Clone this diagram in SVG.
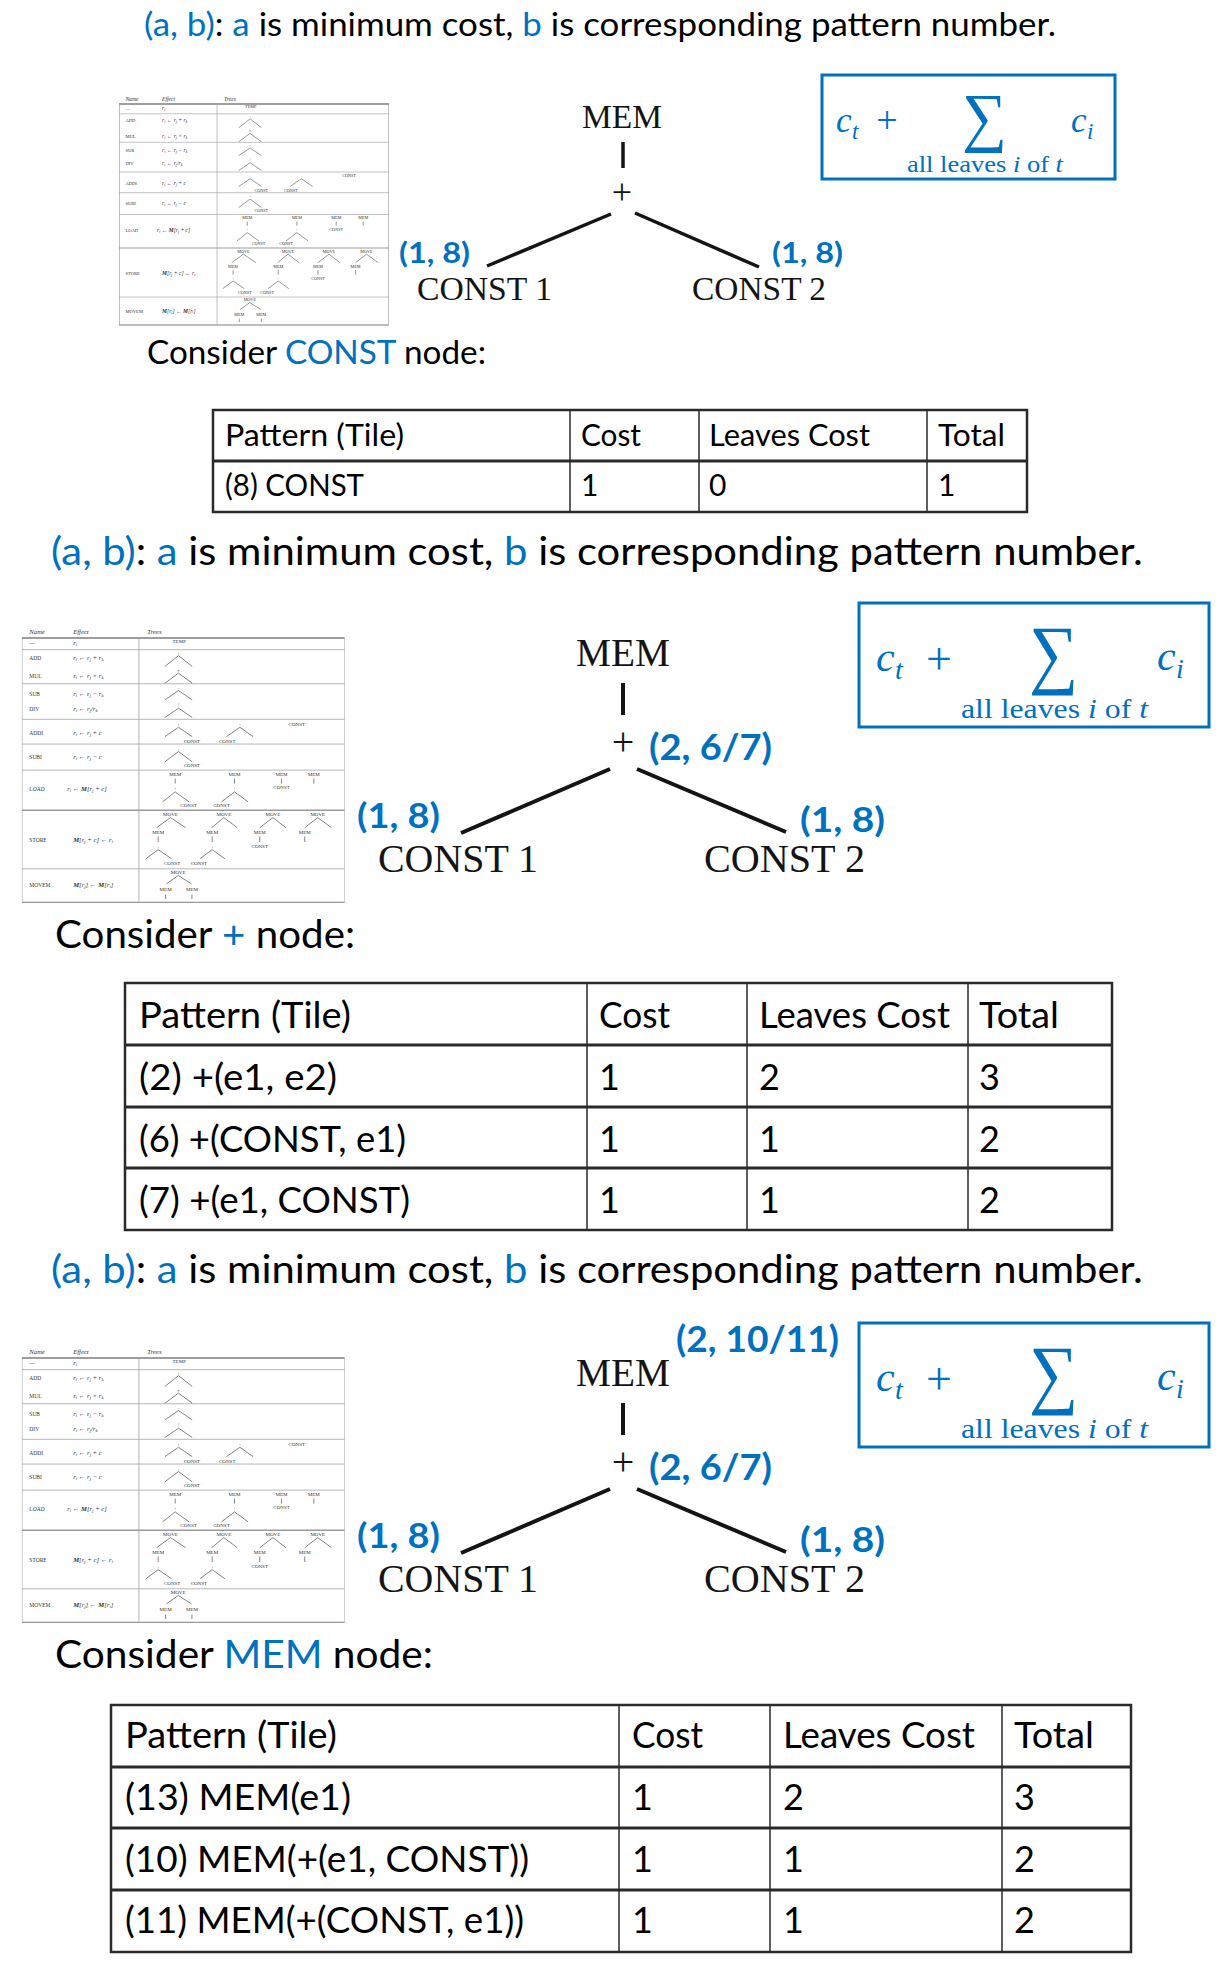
<svg xmlns="http://www.w3.org/2000/svg" width="1229" height="1974" viewBox="0 0 1229 1974">
<defs>
<style>
.t{font-family:Lato,'Liberation Sans',sans-serif;fill:#000}
.bl{fill:#0070C0}
.lab{font-family:Lato,'Liberation Sans',sans-serif;font-weight:700;fill:#0070C0}
.sf{font-family:'Liberation Serif','Times New Roman',serif;fill:#141414}
.mi{font-family:'Liberation Serif',serif;font-style:italic;fill:#0070C0}
.mr{font-family:'Liberation Serif',serif;fill:#0070C0}
.sig{font-family:'Liberation Serif','DejaVu Serif',serif;fill:#0070C0;text-anchor:middle}
.edge{stroke:#141414;stroke-width:3.5;fill:none}
.edge2{stroke:#141414;stroke-width:4;fill:none}
.box{fill:none;stroke:#0070C0;stroke-width:3}
.tbo{fill:none;stroke:#2a2a2a;stroke-width:2.5}
.tbh{stroke:#2a2a2a;stroke-width:3}
.tbv{stroke:#2a2a2a;stroke-width:1.5}
.tn{font-family:'Liberation Serif',serif;font-size:4.6px;fill:#333}
.te{font-family:'Liberation Serif',serif;font-size:5.6px;font-style:italic;fill:#333}
.s{font-size:3.8px}
.tt{font-family:'Liberation Serif',serif;font-size:4.2px;fill:#333;text-anchor:middle}
.tl{stroke:#444;stroke-width:0.55;fill:none}
.tg{stroke:#9a9a9a;stroke-width:0.6;fill:none}
</style>
<symbol id="thumb" viewBox="0 0 270 232" preserveAspectRatio="none">
<text class="te" x="6.4" y="6.5">Name</text>
<text class="te" x="43" y="6.5">Effect</text>
<text class="te" x="105" y="6.5">Trees</text>
<rect class="tg" x="0.3" y="10" width="269.4" height="221"/>
<line x1="0" y1="10" x2="270" y2="10" stroke="#888" stroke-width="1.3"/>
<line x1="0" y1="231" x2="270" y2="231" stroke="#999" stroke-width="1"/>
<g class="tg">
<line x1="0" y1="19.8" x2="270" y2="19.8"/>
<line x1="0" y1="48.3" x2="270" y2="48.3"/>
<line x1="0" y1="78" x2="270" y2="78"/>
<line x1="0" y1="98.7" x2="270" y2="98.7"/>
<line x1="0" y1="120.5" x2="270" y2="120.5"/>
<line x1="0" y1="154" x2="270" y2="154" stroke-width="1.2"/>
<line x1="0" y1="203" x2="270" y2="203"/>
<line x1="98" y1="10" x2="98" y2="231"/>
</g>
<text class="tn" x="6.4" y="15.8">—</text>
<text class="tn" x="6.4" y="28.4">ADD</text>
<text class="tn" x="6.4" y="43.8">MUL</text>
<text class="tn" x="6.4" y="58.3">SUB</text>
<text class="tn" x="6.4" y="71.2">DIV</text>
<text class="tn" x="6.4" y="90.8">ADDI</text>
<text class="tn" x="6.4" y="110.9">SUBI</text>
<text class="tn" x="6.4" y="138.3">LOAD</text>
<text class="tn" x="6.4" y="180.8">STORE</text>
<text class="tn" x="6.4" y="218.5">MOVEM</text>
<text class="te" x="43" y="15.8">r<tspan class="s" dy="0.9">i</tspan></text>
<text class="te" x="43" y="28.4">r<tspan class="s" dy="0.9">i</tspan><tspan dy="-0.9"> ← r</tspan><tspan class="s" dy="0.9">j</tspan><tspan dy="-0.9"> + r</tspan><tspan class="s" dy="0.9">k</tspan></text>
<text class="te" x="43" y="43.8">r<tspan class="s" dy="0.9">i</tspan><tspan dy="-0.9"> ← r</tspan><tspan class="s" dy="0.9">j</tspan><tspan dy="-0.9"> × r</tspan><tspan class="s" dy="0.9">k</tspan></text>
<text class="te" x="43" y="58.3">r<tspan class="s" dy="0.9">i</tspan><tspan dy="-0.9"> ← r</tspan><tspan class="s" dy="0.9">j</tspan><tspan dy="-0.9"> − r</tspan><tspan class="s" dy="0.9">k</tspan></text>
<text class="te" x="43" y="71.2">r<tspan class="s" dy="0.9">i</tspan><tspan dy="-0.9"> ← r</tspan><tspan class="s" dy="0.9">j</tspan><tspan dy="-0.9">/r</tspan><tspan class="s" dy="0.9">k</tspan></text>
<text class="te" x="43" y="90.8">r<tspan class="s" dy="0.9">i</tspan><tspan dy="-0.9"> ← r</tspan><tspan class="s" dy="0.9">j</tspan><tspan dy="-0.9"> + c</tspan></text>
<text class="te" x="43" y="110.9">r<tspan class="s" dy="0.9">i</tspan><tspan dy="-0.9"> ← r</tspan><tspan class="s" dy="0.9">j</tspan><tspan dy="-0.9"> − c</tspan></text>
<text class="te" x="38" y="138.3">r<tspan class="s" dy="0.9">i</tspan><tspan dy="-0.9"> ← </tspan><tspan font-weight="700">M</tspan>[r<tspan class="s" dy="0.9">j</tspan><tspan dy="-0.9"> + c]</tspan></text>
<text class="te" x="43" y="180.8"><tspan font-weight="700">M</tspan>[r<tspan class="s" dy="0.9">j</tspan><tspan dy="-0.9"> + c] ← r</tspan><tspan class="s" dy="0.9">i</tspan></text>
<text class="te" x="43" y="218.5"><tspan font-weight="700">M</tspan>[r<tspan class="s" dy="0.9">j</tspan><tspan dy="-0.9">] ← </tspan><tspan font-weight="700">M</tspan>[r<tspan class="s" dy="0.9">i</tspan><tspan dy="-0.9">]</tspan></text>
<text class="tt" x="131.7" y="14.1">TEMP</text>
<text class="tt" x="131.1" y="24">+</text>
<text class="tt" x="131.1" y="39">*</text>
<text class="tt" x="131.1" y="53.3">-</text>
<text class="tt" x="131.1" y="67.3">/</text>
<text class="tt" x="131.1" y="84">+</text>
<text class="tt" x="142.3" y="98">CONST</text>
<text class="tt" x="182.4" y="84">+</text>
<text class="tt" x="171.8" y="98">CONST</text>
<text class="tt" x="230" y="83.2">CONST</text>
<text class="tt" x="131.1" y="104.3">-</text>
<text class="tt" x="142.3" y="118.3">CONST</text>
<text class="tt" x="128.3" y="125.1">MEM</text>
<text class="tt" x="128.3" y="137.2">+</text>
<text class="tt" x="139.5" y="151.2">CONST</text>
<text class="tt" x="177.9" y="125.1">MEM</text>
<text class="tt" x="177.9" y="137.2">+</text>
<text class="tt" x="167" y="151.2">CONST</text>
<text class="tt" x="217.2" y="125.1">MEM</text>
<text class="tt" x="217.2" y="136.6">CONST</text>
<text class="tt" x="244.2" y="125.1">MEM</text>
<text class="tt" x="124.4" y="158.7">MOVE</text>
<text class="tt" x="114.1" y="173.5">MEM</text>
<text class="tt" x="114.1" y="186.1">+</text>
<text class="tt" x="125.8" y="200.1">CONST</text>
<text class="tt" x="169" y="158.7">MOVE</text>
<text class="tt" x="159.2" y="173.5">MEM</text>
<text class="tt" x="159.2" y="186.1">+</text>
<text class="tt" x="148.1" y="200.1">CONST</text>
<text class="tt" x="210" y="158.7">MOVE</text>
<text class="tt" x="199" y="173.5">MEM</text>
<text class="tt" x="199" y="185.6">CONST</text>
<text class="tt" x="247.5" y="158.7">MOVE</text>
<text class="tt" x="236.6" y="173.5">MEM</text>
<text class="tt" x="130.8" y="207.1">MOVE</text>
<text class="tt" x="120.3" y="221.9">MEM</text>
<text class="tt" x="142.3" y="221.9">MEM</text>
<g class="tl">
<path d="M119.7,33.8 L131.1,24.8 L142.5,33.8"/>
<path d="M119.7,47.8 L131.1,39.4 L142.5,47.8"/>
<path d="M119.7,61.7 L131.1,54 L142.5,61.7"/>
<path d="M119.7,76.5 L131.1,68.7 L142.5,76.5"/>
<path d="M119.7,92.5 L131.1,84.7 L142.5,92.5"/>
<path d="M171.2,92.5 L182.4,84.7 L193.5,92.5"/>
<path d="M119.7,113.5 L131.1,105 L142.5,113.5"/>
<path d="M128.3,127.6 V131.7 M177.9,127.6 V131.7 M217.2,127.6 V131.7 M244.2,127.6 V131.7"/>
<path d="M117.8,147 L128.3,138.7 L139.8,147"/>
<path d="M167,147 L177.9,138.7 L189.3,147"/>
<path d="M112.8,168.6 L124.4,160.2 L137,168.6"/>
<path d="M158.7,168.6 L169,160.2 L180.1,168.6"/>
<path d="M199,168.6 L210,160.2 L220.8,168.6"/>
<path d="M236.6,168.6 L247.5,160.2 L259,168.6"/>
<path d="M114.1,176 V180.6 M159.2,176 V180.6 M199,176 V180.6 M236.6,176 V180.6"/>
<path d="M103.8,194.6 L114.1,187 L125.3,194.6"/>
<path d="M149,194.6 L159.2,187 L169.8,194.6"/>
<path d="M121,215.6 L130.8,208.6 L142,215.6"/>
<path d="M120.3,224.5 V228.2 M142.3,224.5 V228.2"/>
</g>
</symbol>
</defs>
<rect width="1229" height="1974" fill="#fff"/>

<!-- ================= SECTION 1 ================= -->
<g id="title-1">
<text class="t" x="144" y="36" font-size="33" textLength="912" lengthAdjust="spacingAndGlyphs"><tspan class="bl">(a, b)</tspan>: <tspan class="bl">a</tspan> is minimum cost, <tspan class="bl">b</tspan> is corresponding pattern number.</text>
</g>
<g id="pattern-table-1"><use href="#thumb" x="119" y="94" width="270" height="232"/></g>

<g id="connectors">
<line class="edge" x1="623" y1="142" x2="623" y2="168"/>
<line class="edge" x1="611" y1="214" x2="487" y2="266"/>
<line class="edge" x1="635" y1="213" x2="759" y2="267"/>
<line class="edge2" x1="623" y1="683" x2="623" y2="715"/>
<line class="edge2" x1="610" y1="769" x2="461" y2="833"/>
<line class="edge2" x1="637" y1="769" x2="786" y2="832"/>
<line class="edge2" x1="623" y1="1403" x2="623" y2="1435"/>
<line class="edge2" x1="610" y1="1489" x2="461" y2="1553"/>
<line class="edge2" x1="637" y1="1489" x2="786" y2="1552"/>
</g>

<g id="node-mem-1"><text class="sf" x="582" y="128" font-size="33" textLength="80" lengthAdjust="spacingAndGlyphs">MEM</text></g>
<g id="node-plus-1"><text class="sf" x="622" y="204" font-size="36" text-anchor="middle">+</text></g>
<g id="node-const1-1">
<text class="lab" x="399" y="263" font-size="29" textLength="71" lengthAdjust="spacingAndGlyphs">(1, 8)</text>
<text class="sf" x="417" y="300" font-size="33.5" textLength="135" lengthAdjust="spacingAndGlyphs">CONST 1</text>
</g>
<g id="node-const2-1">
<text class="lab" x="772" y="263" font-size="29" textLength="71" lengthAdjust="spacingAndGlyphs">(1, 8)</text>
<text class="sf" x="692" y="300" font-size="33.5" textLength="134" lengthAdjust="spacingAndGlyphs">CONST 2</text>
</g>
<g id="formula-1">
<rect class="box" x="822" y="75" width="293" height="104"/>
<text class="mi" x="836" y="132" font-size="35">c</text>
<text class="mi" x="852" y="139" font-size="23">t</text>
<text class="mr" x="887" y="132.5" font-size="38" text-anchor="middle">+</text>
<text class="sig" transform="translate(984.5,153) scale(1,1.05)" x="0" y="-13.2" font-size="63">∑</text>
<text class="mi" x="1071" y="132" font-size="35">c</text>
<text class="mi" x="1087" y="139" font-size="23">i</text>
<text class="mr" x="907" y="172" font-size="23" textLength="156" lengthAdjust="spacingAndGlyphs">all leaves <tspan font-style="italic">i</tspan> of <tspan font-style="italic">t</tspan></text>
</g>
<g id="consider-1">
<text class="t" x="147" y="364" font-size="33.5" textLength="339" lengthAdjust="spacingAndGlyphs">Consider <tspan class="bl">CONST</tspan> node:</text>
</g>
<g id="table-1">
<rect class="tbo" x="213" y="410" width="814" height="102"/>
<line class="tbh" x1="213" y1="461" x2="1027" y2="461"/>
<line class="tbv" x1="570" y1="410" x2="570" y2="512"/>
<line class="tbv" x1="699" y1="410" x2="699" y2="512"/>
<line class="tbv" x1="927" y1="410" x2="927" y2="512"/>
<text class="t" x="225" y="446" font-size="30" textLength="179" lengthAdjust="spacingAndGlyphs">Pattern (Tile)</text>
<text class="t" x="581" y="446" font-size="30" textLength="60" lengthAdjust="spacingAndGlyphs">Cost</text>
<text class="t" x="709" y="446" font-size="30" textLength="161" lengthAdjust="spacingAndGlyphs">Leaves Cost</text>
<text class="t" x="938" y="446" font-size="30" textLength="67" lengthAdjust="spacingAndGlyphs">Total</text>
<text class="t" x="225" y="496" font-size="30" textLength="139" lengthAdjust="spacingAndGlyphs">(8) CONST</text>
<text class="t" x="581" y="496" font-size="30">1</text>
<text class="t" x="709" y="496" font-size="30">0</text>
<text class="t" x="938" y="496" font-size="30">1</text>
</g>

<!-- ================= SECTION 2 ================= -->
<g id="title-2">
<text class="t" x="51" y="565" font-size="39" textLength="1092" lengthAdjust="spacingAndGlyphs"><tspan class="bl">(a, b)</tspan>: <tspan class="bl">a</tspan> is minimum cost, <tspan class="bl">b</tspan> is corresponding pattern number.</text>
</g>
<g id="pattern-table-2"><use href="#thumb" x="21.7" y="626" width="323" height="277.5"/></g>
<g id="node-mem-2"><text class="sf" x="576" y="666" font-size="40" textLength="94" lengthAdjust="spacingAndGlyphs">MEM</text></g>
<g id="node-plus-2">
<text class="sf" x="623" y="755" font-size="40" text-anchor="middle">+</text>
<text class="lab" x="649" y="760" font-size="36" textLength="123" lengthAdjust="spacingAndGlyphs">(2, 6/7)</text>
</g>
<g id="node-const1-2">
<text class="lab" x="357" y="828" font-size="35" textLength="83" lengthAdjust="spacingAndGlyphs">(1, 8)</text>
<text class="sf" x="378" y="872" font-size="40" textLength="160" lengthAdjust="spacingAndGlyphs">CONST 1</text>
</g>
<g id="node-const2-2">
<text class="lab" x="800" y="832" font-size="35" textLength="85" lengthAdjust="spacingAndGlyphs">(1, 8)</text>
<text class="sf" x="704" y="872" font-size="40" textLength="161" lengthAdjust="spacingAndGlyphs">CONST 2</text>
</g>
<g id="formula-2">
<rect class="box" x="859" y="603" width="350" height="124"/>
<text class="mi" x="876" y="671" font-size="42">c</text>
<text class="mi" x="895" y="679" font-size="28">t</text>
<text class="mr" x="939" y="673.5" font-size="46" text-anchor="middle">+</text>
<text class="sig" transform="translate(1053.5,695) scale(1,1.115)" x="0" y="-14.5" font-size="69">∑</text>
<text class="mi" x="1157" y="670" font-size="42">c</text>
<text class="mi" x="1176" y="678" font-size="28">i</text>
<text class="mr" x="961" y="718" font-size="27" textLength="187" lengthAdjust="spacingAndGlyphs">all leaves <tspan font-style="italic">i</tspan> of <tspan font-style="italic">t</tspan></text>
</g>
<g id="consider-2">
<text class="t" x="55" y="948" font-size="39" textLength="300" lengthAdjust="spacingAndGlyphs">Consider <tspan class="bl">+</tspan> node:</text>
</g>
<g id="table-2">
<rect class="tbo" x="125" y="983" width="987" height="247"/>
<line class="tbh" x1="125" y1="1045" x2="1112" y2="1045"/>
<line class="tbh" x1="125" y1="1107" x2="1112" y2="1107"/>
<line class="tbh" x1="125" y1="1168" x2="1112" y2="1168"/>
<line class="tbv" x1="587" y1="983" x2="587" y2="1230"/>
<line class="tbv" x1="747" y1="983" x2="747" y2="1230"/>
<line class="tbv" x1="968" y1="983" x2="968" y2="1230"/>
<text class="t" x="139" y="1028" font-size="36" textLength="212" lengthAdjust="spacingAndGlyphs">Pattern (Tile)</text>
<text class="t" x="599" y="1028" font-size="36" textLength="71" lengthAdjust="spacingAndGlyphs">Cost</text>
<text class="t" x="759" y="1028" font-size="36" textLength="191" lengthAdjust="spacingAndGlyphs">Leaves Cost</text>
<text class="t" x="979" y="1028" font-size="36" textLength="80" lengthAdjust="spacingAndGlyphs">Total</text>
<text class="t" x="139" y="1090" font-size="36" textLength="198" lengthAdjust="spacingAndGlyphs">(2) +(e1, e2)</text>
<text class="t" x="599" y="1090" font-size="36">1</text>
<text class="t" x="759" y="1090" font-size="36">2</text>
<text class="t" x="979" y="1090" font-size="36">3</text>
<text class="t" x="139" y="1152" font-size="36" textLength="267" lengthAdjust="spacingAndGlyphs">(6) +(CONST, e1)</text>
<text class="t" x="599" y="1152" font-size="36">1</text>
<text class="t" x="759" y="1152" font-size="36">1</text>
<text class="t" x="979" y="1152" font-size="36">2</text>
<text class="t" x="139" y="1213" font-size="36" textLength="271" lengthAdjust="spacingAndGlyphs">(7) +(e1, CONST)</text>
<text class="t" x="599" y="1213" font-size="36">1</text>
<text class="t" x="759" y="1213" font-size="36">1</text>
<text class="t" x="979" y="1213" font-size="36">2</text>
</g>

<!-- ================= SECTION 3 ================= -->
<g id="title-3">
<text class="t" x="51" y="1283" font-size="39" textLength="1092" lengthAdjust="spacingAndGlyphs"><tspan class="bl">(a, b)</tspan>: <tspan class="bl">a</tspan> is minimum cost, <tspan class="bl">b</tspan> is corresponding pattern number.</text>
</g>
<g id="pattern-table-3"><use href="#thumb" x="21.7" y="1346" width="323" height="277.5"/></g>
<g id="node-mem-3">
<text class="sf" x="576" y="1386" font-size="40" textLength="94" lengthAdjust="spacingAndGlyphs">MEM</text>
<text class="lab" x="676" y="1352" font-size="36" textLength="163" lengthAdjust="spacingAndGlyphs">(2, 10/11)</text>
</g>
<g id="node-plus-3">
<text class="sf" x="623" y="1475" font-size="40" text-anchor="middle">+</text>
<text class="lab" x="649" y="1480" font-size="36" textLength="123" lengthAdjust="spacingAndGlyphs">(2, 6/7)</text>
</g>
<g id="node-const1-3">
<text class="lab" x="357" y="1548" font-size="35" textLength="83" lengthAdjust="spacingAndGlyphs">(1, 8)</text>
<text class="sf" x="378" y="1592" font-size="40" textLength="160" lengthAdjust="spacingAndGlyphs">CONST 1</text>
</g>
<g id="node-const2-3">
<text class="lab" x="800" y="1552" font-size="35" textLength="85" lengthAdjust="spacingAndGlyphs">(1, 8)</text>
<text class="sf" x="704" y="1592" font-size="40" textLength="161" lengthAdjust="spacingAndGlyphs">CONST 2</text>
</g>
<g id="formula-3">
<rect class="box" x="859" y="1323" width="350" height="124"/>
<text class="mi" x="876" y="1391" font-size="42">c</text>
<text class="mi" x="895" y="1399" font-size="28">t</text>
<text class="mr" x="939" y="1393.5" font-size="46" text-anchor="middle">+</text>
<text class="sig" transform="translate(1053.5,1415) scale(1,1.115)" x="0" y="-14.5" font-size="69">∑</text>
<text class="mi" x="1157" y="1390" font-size="42">c</text>
<text class="mi" x="1176" y="1398" font-size="28">i</text>
<text class="mr" x="961" y="1438" font-size="27" textLength="187" lengthAdjust="spacingAndGlyphs">all leaves <tspan font-style="italic">i</tspan> of <tspan font-style="italic">t</tspan></text>
</g>
<g id="consider-3">
<text class="t" x="55" y="1668" font-size="39" textLength="378" lengthAdjust="spacingAndGlyphs">Consider <tspan class="bl">MEM</tspan> node:</text>
</g>
<g id="table-3">
<rect class="tbo" x="111" y="1705" width="1020" height="247"/>
<line class="tbh" x1="111" y1="1767" x2="1131" y2="1767"/>
<line class="tbh" x1="111" y1="1828" x2="1131" y2="1828"/>
<line class="tbh" x1="111" y1="1890" x2="1131" y2="1890"/>
<line class="tbv" x1="619" y1="1705" x2="619" y2="1952"/>
<line class="tbv" x1="770" y1="1705" x2="770" y2="1952"/>
<line class="tbv" x1="1002" y1="1705" x2="1002" y2="1952"/>
<text class="t" x="125" y="1748" font-size="36" textLength="212" lengthAdjust="spacingAndGlyphs">Pattern (Tile)</text>
<text class="t" x="632" y="1748" font-size="36" textLength="71" lengthAdjust="spacingAndGlyphs">Cost</text>
<text class="t" x="783" y="1748" font-size="36" textLength="192" lengthAdjust="spacingAndGlyphs">Leaves Cost</text>
<text class="t" x="1014" y="1748" font-size="36" textLength="80" lengthAdjust="spacingAndGlyphs">Total</text>
<text class="t" x="125" y="1810" font-size="36" textLength="226" lengthAdjust="spacingAndGlyphs">(13) MEM(e1)</text>
<text class="t" x="632" y="1810" font-size="36">1</text>
<text class="t" x="783" y="1810" font-size="36">2</text>
<text class="t" x="1014" y="1810" font-size="36">3</text>
<text class="t" x="125" y="1872" font-size="36" textLength="404" lengthAdjust="spacingAndGlyphs">(10) MEM(+(e1, CONST))</text>
<text class="t" x="632" y="1872" font-size="36">1</text>
<text class="t" x="783" y="1872" font-size="36">1</text>
<text class="t" x="1014" y="1872" font-size="36">2</text>
<text class="t" x="125" y="1933" font-size="36" textLength="399" lengthAdjust="spacingAndGlyphs">(11) MEM(+(CONST, e1))</text>
<text class="t" x="632" y="1933" font-size="36">1</text>
<text class="t" x="783" y="1933" font-size="36">1</text>
<text class="t" x="1014" y="1933" font-size="36">2</text>
</g>
</svg>
